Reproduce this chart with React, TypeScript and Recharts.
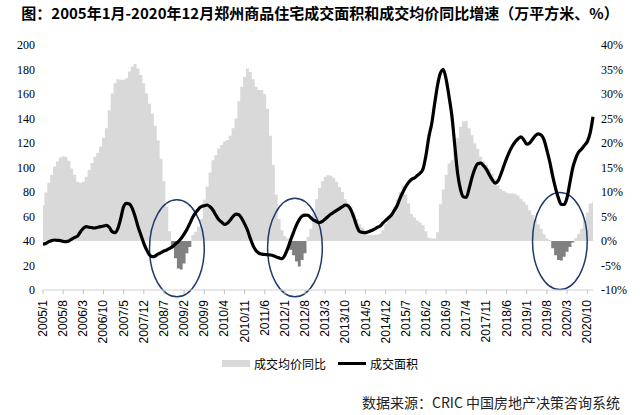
import React from 'react';
import { ComposedChart, Area, Line, XAxis, YAxis, ReferenceArea, Legend } from 'recharts';

// Categories: monthly, 2005/1 .. 2020/12
const years = [2005, 2006, 2007, 2008, 2009, 2010, 2011, 2012, 2013, 2014, 2015, 2016, 2017, 2018, 2019, 2020];
const monthNums = [1, 2, 3, 4, 5, 6, 7, 8, 9, 10, 11, 12];
const months: string[] = years.flatMap((y) => monthNums.map((m) => `${y}/${m}`));

// 成交均价同比 (%), right axis
const priceYoY = [
  7.3, 9.9, 11.9, 13.5, 15.2, 16.2, 17.0, 17.3, 17.2, 16.4, 14.8, 13.5,
  12.1, 11.9, 12.1, 13.1, 14.5, 15.9, 17.2, 18.0, 19.3, 21.0, 23.0, 26.7,
  30.1, 32.2, 33.0, 32.9, 32.9, 33.2, 34.6, 35.6, 36.1, 35.2, 33.9, 32.2,
  30.1, 28, 26, 23.5, 20.5, 16.8, 12.2, 7, 2, -1.2, -3.5, -5.6,
  -5.8, -4.6, -2.5, -1.2, 1.2, 1.9, 2.9, 4.5, 8.4, 11.1, 14, 16.5,
  17.5, 18.9, 19.6, 20.3, 20.6, 21.5, 23, 25, 28.5, 31.5, 33.5, 35.2,
  34.5, 33, 31.5, 30.8, 30.8, 30, 27, 21.5, 15.5, 9.5, 4.5, 2.2,
  1, 0.5, -1.8, -2.9, -4.2, -5.2, -3.9, -2.5, 0.8, 2.5, 5.6, 8.5,
  10.8, 12.2, 13.1, 13.4, 13.3, 12.9, 12.1, 11, 10, 8.5, 7.7, 7,
  5.8, 4.5, 3.4, 2.7, 1.8, 1.3, 1.2, 1.2, 1.3, 1.5, 2.2, 3.5,
  4.5, 5.5, 7, 8.5, 10, 11.2, 9.5, 7.7, 5.5, 4.8, 4.2, 3.8,
  3.2, 2, 0.6, 0.5, 0.5, 1.8, 7.5, 10.5, 13.5, 15.8, 16.5, 18.5,
  21, 23.3, 24.4, 24.5, 23, 21.6, 19.9, 18.8, 17.2, 16.3, 15.5, 14.8,
  13.8, 12.6, 11.4, 10.6, 10.2, 9.9, 9.7, 9.7, 9.6, 9.3, 8.6, 8,
  7.4, 6.3, 5.3, 4.4, 3.4, 2.5, 1.4, 0.5, 0.2, -1.5, -2.9, -3.9,
  -4, -3.2, -2.2, -1.2, -0.3, 0.6, 1.5, 2.5, 4.2, 5.8, 7.6, 7.8,
];

// 成交面积 (万平方米), left axis
const dealArea = [
  37.5, 38, 39.5, 40.3, 40.8, 40.5, 40.3, 39.7, 39.5, 40, 41.6, 43,
  44, 47.6, 50.3, 51.7, 51.2, 50.9, 50.6, 51.2, 51.7, 52.2, 52.8, 51.2,
  47.6, 46.8, 50.3, 58.5, 68, 70.7, 70.2, 66.7, 59.9, 51.7, 44.9, 38.1,
  32.7, 28.6, 27.2, 27.8, 29.4, 30.5, 31.8, 32.7, 34, 35.4, 37.6, 39.5,
  42.2, 45.7, 49.5, 54.4, 59.3, 63.1, 66.1, 68, 68.8, 69.4, 68, 65.3,
  61.2, 57.5, 55.5, 53.5, 54.5, 57, 60, 62, 61.5, 58.5, 54, 49,
  42, 36, 32, 30, 29.3, 29, 28.8, 28.6, 28, 27, 26.2, 25.6,
  28.5, 34, 40.8, 47, 53, 57.5, 60.4, 61.2, 61, 59, 57, 55.8,
  55, 56, 58, 60, 62, 63.5, 65, 66.5, 68, 69.4, 68.5, 65,
  59, 52, 47.6, 47, 46.8, 47.5, 48.5, 49.5, 51, 52, 54.5, 56.8,
  59, 61.2, 65, 69, 75, 80, 84.5, 88, 90.3, 91.5, 93.5, 95.5,
  99, 110, 125, 136, 152, 167, 177, 180, 172, 158, 142, 118,
  95, 82, 76, 75.5, 83, 92, 99, 103, 103.5, 101.5, 98.5, 94,
  90, 87.3, 89, 94.5, 101, 107.5, 113, 117.5, 121, 123.5, 125, 122.5,
  119, 120, 123, 126, 127.5, 126.5, 122.5, 114, 104.5, 93, 83, 75,
  69.8, 69.8, 75.5, 88, 100, 107.5, 112.5, 115, 118, 121, 128, 141.5,
];

const leftTicks = [0, 20, 40, 60, 80, 100, 120, 140, 160, 180, 200];
const rightTicks = [-10, -5, 0, 5, 10, 15, 20, 25, 30, 35, 40];

// Highlighted periods (ellipses), in data coordinates
const highlightFrom = ['2008/2', '2011/7', '2019/3'];
const highlightTo = ['2009/9', '2013/2', '2020/10'];
const highlightLow = [-11.4, -11.4, -9.9];
const highlightHigh = [8.4, 8.7, 9.9];

// Columns (gap width 0) split by sign for the two greys
const data = months.map((month, i) => ({
  month,
  pricePos: priceYoY[i] >= 0 ? priceYoY[i] : 0,
  priceNeg: priceYoY[i] < 0 ? priceYoY[i] : 0,
  area: dealArea[i],
}));

const POS = '#d9d9d9';
const NEG = '#808080';

const XTick = (props: any) => {
  const { x, y, payload } = props;
  return (
    <g transform={`translate(${x},${y})`}>
      <text
        transform="rotate(-90)"
        x={-4}
        y={0}
        textAnchor="end"
        dominantBaseline="central"
        fontSize={12}
        fontFamily="'Liberation Sans', Arial, sans-serif"
        fill="#000"
      >
        {payload.value}
      </text>
    </g>
  );
};

const EllipseShape = (props: any) => {
  const { x, y, width, height } = props;
  return (
    <ellipse
      cx={x + width / 2}
      cy={y + height / 2}
      rx={width / 2}
      ry={height / 2}
      fill="none"
      stroke="#1f3a6b"
      strokeWidth={1.5}
    />
  );
};

const LegendContent = (props: any) => {
  const items = (props.payload || []).filter((it: any) => it.type !== 'none');
  return (
    <div
      style={{
        display: 'flex',
        justifyContent: 'center',
        alignItems: 'center',
        height: 20,
        fontFamily: "'Noto Sans CJK SC', sans-serif",
        fontSize: 12,
        color: '#000',
      }}
    >
      {items.map((it: any, idx: number) => (
        <div key={idx} style={{ display: 'flex', alignItems: 'center', marginRight: idx === 0 ? 12 : 0 }}>
          {it.type === 'line' ? (
            <div style={{ width: 28, height: 3, background: '#000', marginRight: 4 }} />
          ) : (
            <div style={{ width: 28, height: 7, background: POS, marginRight: 4 }} />
          )}
          <span>{it.value}</span>
        </div>
      ))}
    </div>
  );
};

export default function App() {
  return (
    <div style={{ position: 'absolute', left: 0, top: 0, width: 640, height: 415, background: '#fff' }}>
      <div
        style={{
          position: 'absolute',
          left: 0,
          top: 3,
          width: 640,
          textAlign: 'center',
          fontFamily: "'Noto Sans CJK SC', sans-serif",
          fontWeight: 700,
          fontSize: 15,
          lineHeight: '20px',
          color: '#000',
          whiteSpace: 'nowrap',
        }}
      >
        图：2005年1月-2020年12月郑州商品住宅成交面积和成交均价同比增速（万平方米、%）
      </div>
      <div style={{ position: 'absolute', left: 0, top: 0 }}>
        <ComposedChart
          width={640}
          height={415}
          data={data}
          margin={{ top: 45, right: 0, bottom: 42, left: 0 }}
          barCategoryGap={0}
          barGap={0}
        >
          <XAxis
            dataKey="month"
            interval={6}
            height={63}
            tick={<XTick />}
            tickSize={4}
            tickLine={{ stroke: '#bfbfbf' }}
            axisLine={{ stroke: '#d0d0d0' }}
            xAxisId="x"
          />
          <YAxis
            yAxisId="left"
            orientation="left"
            width={43}
            domain={[0, 200]}
            ticks={leftTicks}
            axisLine={false}
            tickLine={false}
            tick={{ fontSize: 12, fill: '#000', fontFamily: "'Liberation Serif', serif" }}
          />
          <YAxis
            yAxisId="right"
            orientation="right"
            width={47}
            domain={[-10, 40]}
            ticks={rightTicks}
            axisLine={false}
            tickLine={false}
            tickFormatter={(v: number) => `${v}%`}
            tick={{ fontSize: 12, fill: '#000', fontFamily: "'Liberation Serif', serif" }}
          />
          <Legend verticalAlign="bottom" align="center" content={<LegendContent />} />
          <Area
            dataKey="pricePos"
            name="成交均价同比"
            yAxisId="right"
            xAxisId="x"
            type="step"
            fill={POS}
            fillOpacity={1}
            stroke="none"
            dot={false}
            activeDot={false}
            isAnimationActive={false}
            legendType="rect"
          />
          <Area
            dataKey="priceNeg"
            name="成交均价同比(负)"
            yAxisId="right"
            xAxisId="x"
            type="step"
            fill={NEG}
            fillOpacity={1}
            stroke="none"
            dot={false}
            activeDot={false}
            isAnimationActive={false}
            legendType="none"
          />
          <Line
            dataKey="area"
            name="成交面积"
            yAxisId="left"
            xAxisId="x"
            type="monotone"
            stroke="#000"
            strokeWidth={3.2}
            dot={false}
            activeDot={false}
            isAnimationActive={false}
            legendType="line"
          />
          {highlightFrom.map((from, i) => (
            <ReferenceArea
              key={i}
              xAxisId="x"
              yAxisId="right"
              x1={from}
              x2={highlightTo[i]}
              y1={highlightLow[i]}
              y2={highlightHigh[i]}
              ifOverflow="visible"
              shape={<EllipseShape />}
            />
          ))}
        </ComposedChart>
      </div>
      <div
        style={{
          position: 'absolute',
          right: 20,
          top: 392,
          fontFamily: "'Noto Sans CJK SC', sans-serif",
          fontSize: 14,
          lineHeight: '20px',
          color: '#222',
          whiteSpace: 'nowrap',
        }}
      >
        数据来源：CRIC 中国房地产决策咨询系统
      </div>
    </div>
  );
}
